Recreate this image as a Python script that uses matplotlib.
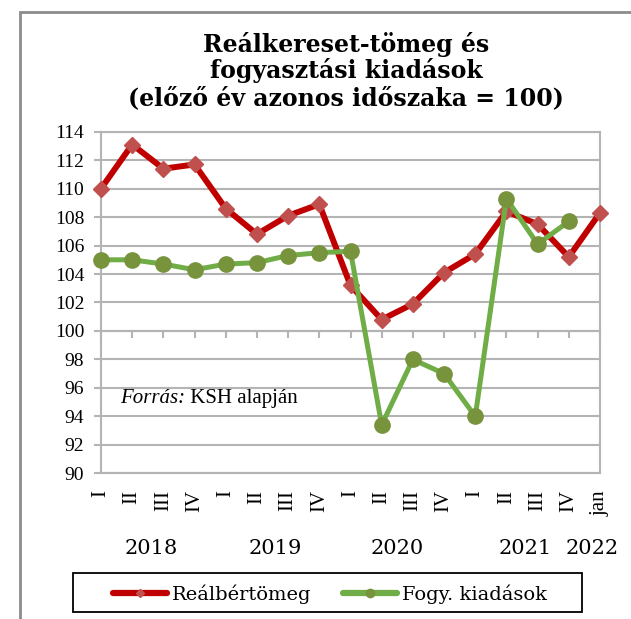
import numpy as np
import matplotlib.pyplot as plt
from matplotlib.lines import Line2D
from matplotlib.patches import Rectangle
from matplotlib.transforms import blended_transform_factory

# data
quarters = ["I", "II", "III", "IV"] * 4 + ["jan"]
years = ["2018", "2019", "2020", "2021", "2022"]
year_pos = [1.6, 5.6, 9.5, 13.6, 15.75]
realber = [110.0, 113.1, 111.4, 111.7, 108.6, 106.8, 108.1, 108.9, 103.2,
           100.8, 101.9, 104.1, 105.4, 108.4, 107.5, 105.2, 108.3]
fogy = [105.0, 105.0, 104.7, 104.3, 104.7, 104.8, 105.3, 105.5, 105.6,
        93.4, 98.0, 97.0, 94.0, 109.3, 106.1, 107.7]
labels = ["Reálbértömeg", "Fogy. kiadások"]
title_lines = ["Reálkereset-tömeg és", "fogyasztási kiadások",
               "(előző év azonos időszaka = 100)"]

RED, RED_M = "#C00000", "#C0504D"
GREEN, GREEN_M = "#70AD47", "#77933C"
GRID = "#B4B4B4"
TIMES = "Liberation Serif"
BOOK = "DejaVu Serif"

W, H = 631, 619
fig = plt.figure(figsize=(W / 100, H / 100), dpi=100)
ax = fig.add_axes([101 / W, 1 - 473.3 / H, 499 / W, 341.6 / H])

x = np.arange(len(quarters))
ax.plot(x, realber, color=RED, lw=4.3, marker="D", ms=8,
        mfc=RED_M, mec=RED_M, clip_on=False, zorder=3)
ax.plot(np.arange(len(fogy)), fogy, color=GREEN, lw=3.6, marker="o", ms=11,
        mfc=GREEN_M, mec=GREEN_M, clip_on=False, zorder=4)

ymin, ymax = 90, 114
ax.set_xlim(0, len(quarters) - 1)
ax.set_ylim(ymin, ymax)
ax.set_yticks(np.arange(ymin, ymax + 1, 2))
ax.grid(axis="y", color=GRID, lw=1.5)
ax.set_axisbelow(True)
for s in ax.spines.values():
    s.set_color(GRID)
    s.set_linewidth(1.5)

ax.set_xticks(x, quarters, rotation=90)
ax.tick_params(axis="x", length=0, pad=12, labelsize=15)
ax.tick_params(axis="y", length=5, width=1.5, color=GRID, pad=7, labelsize=14)
for lab in ax.get_xticklabels() + ax.get_yticklabels():
    lab.set_fontfamily(TIMES)

# category axis crosses at 100
sec = ax.secondary_xaxis((100 - ymin) / (ymax - ymin))
sec.set_xticks(x, [""] * len(x))
sec.tick_params(length=5, width=1.5, color=GRID, direction="out")
sec.spines["bottom"].set_color(GRID)
sec.spines["bottom"].set_linewidth(1.5)

trans = blended_transform_factory(ax.transData, ax.transAxes)
for yr, p in zip(years, year_pos):
    ax.text(p, -0.219, yr, transform=trans, ha="center", va="center",
            fontsize=15, family=BOOK)

src = ax.text(0.038, 0.206, "Forrás:", transform=ax.transAxes, ha="left",
              va="baseline", fontsize=15, family=TIMES, style="italic")
ax.annotate(" KSH alapján", xy=(1, 0), xycoords=src, va="bottom",
            fontsize=15, family=TIMES)

for line, yb in zip(title_lines, [52, 78, 105]):
    fig.text(346 / W, 1 - yb / H, line, ha="center", va="baseline",
             fontsize=17, weight="bold", family=BOOK)

handles = [
    Line2D([], [], color=RED, lw=4.5, marker="D", ms=4, mfc=RED_M, mec=RED_M,
           solid_capstyle="round"),
    Line2D([], [], color=GREEN, lw=4.5, marker="o", ms=6, mfc=GREEN_M,
           mec=GREEN_M, solid_capstyle="round"),
]
fig.legend(handles, labels, loc="center", bbox_to_anchor=(330 / W, 1 - 594 / H),
           ncol=2, frameon=False, handlelength=2.8, handletextpad=0.25,
           columnspacing=1.6, prop={"family": BOOK, "size": 14})
fig.add_artist(Rectangle((73 / W, 1 - 612 / H), 509 / W, 39 / H,
                         transform=fig.transFigure, fill=False, ec="black", lw=1.3))
fig.add_artist(Rectangle((20 / W, -0.1), 1.0, 1.1 - 12 / H,
                         transform=fig.transFigure, fill=False, ec="#8C8C8C", lw=2))

fig.savefig("out.png", dpi=100)
